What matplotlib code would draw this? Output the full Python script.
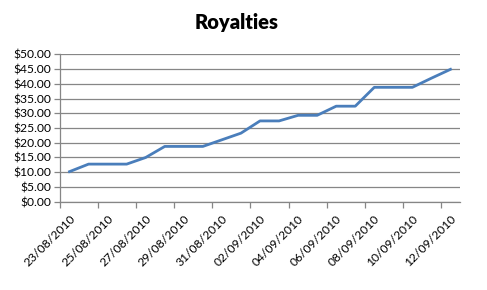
import matplotlib
matplotlib.use("Agg")
import matplotlib.pyplot as plt
from matplotlib.ticker import FixedLocator, FuncFormatter

dates = ["23/08/2010", "24/08/2010", "25/08/2010", "26/08/2010", "27/08/2010",
         "28/08/2010", "29/08/2010", "30/08/2010", "31/08/2010", "01/09/2010",
         "02/09/2010", "03/09/2010", "04/09/2010", "05/09/2010", "06/09/2010",
         "07/09/2010", "08/09/2010", "09/09/2010", "10/09/2010", "11/09/2010",
         "12/09/2010"]
royalties = [10.2, 12.75, 12.75, 12.75, 15.0, 18.75, 18.75, 18.75, 21.0, 23.25,
             27.4, 27.4, 29.3, 29.3, 32.4, 32.4, 38.8, 38.8, 38.8, 41.9, 44.9]

plt.rcParams["font.family"] = ["Lato", "DejaVu Sans"]

grey = "#868686"
fig = plt.figure(figsize=(4.87, 2.9), dpi=100)
ax = fig.add_axes([60 / 487, 88.3 / 290, 400 / 487, 147.4 / 290])

x = list(range(len(dates)))
ax.plot(x, royalties, color="#4A7EBB", linewidth=2.0, solid_joinstyle="round")

ax.set_xlim(-0.5, len(dates) - 0.5)
ax.set_ylim(0, 50)
ax.set_yticks(range(0, 51, 5))
ax.yaxis.set_major_formatter(FuncFormatter(lambda v, p: f"${v:.2f}"))
ax.grid(axis="y", color=grey, linewidth=0.9)
ax.set_axisbelow(True)

ax.set_xticks(x[::2])
ax.set_xticklabels(dates[::2], rotation=45, ha="right", rotation_mode="anchor")
ax.xaxis.set_minor_locator(FixedLocator([i - 0.5 for i in x[::2]]))
ax.tick_params(axis="x", which="major", length=0, pad=8)
ax.tick_params(axis="x", which="minor", length=4, color=grey, width=0.9)
ax.tick_params(axis="y", length=4, color=grey, width=0.9, pad=2)
ax.tick_params(labelsize=8.7, labelcolor="black")

for s in ["top", "right"]:
    ax.spines[s].set_visible(False)
for s in ["left", "bottom"]:
    ax.spines[s].set_color(grey)
    ax.spines[s].set_linewidth(0.9)

fig.text(0.485, 1 - 23 / 290, "Royalties", ha="center", va="center",
         fontsize=14.5, fontweight="heavy")

fig.savefig("out.png", dpi=100)
